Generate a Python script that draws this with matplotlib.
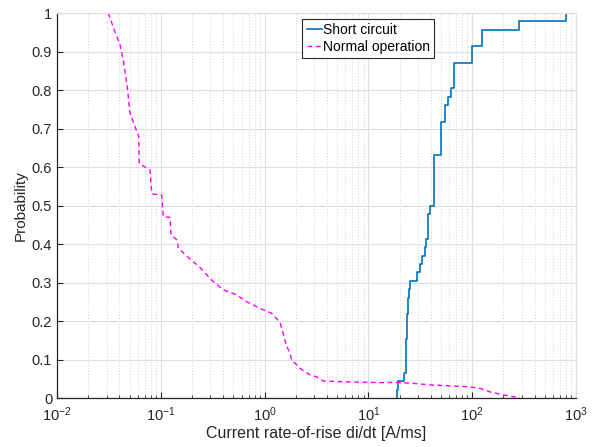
import numpy as np
import matplotlib
matplotlib.use("Agg")
import matplotlib.pyplot as plt
from matplotlib.ticker import FixedLocator, FormatStrFormatter, LogLocator

plt.rcParams['font.family'] = ['Liberation Sans', 'DejaVu Sans']
plt.rcParams['mathtext.fontset'] = 'custom'
plt.rcParams['mathtext.rm'] = 'Liberation Sans'
plt.rcParams['mathtext.it'] = 'Liberation Sans:italic'

# === DATA ===
# short circuit: di/dt samples (A/ms), read off the step CDF (n = 46)
short_circuit = [19.0, 19.4, 22.0,
                 23.0, 23.0, 23.1, 23.2, 23.3,
                 23.6, 23.7, 23.9, 24.0,
                 24.5, 24.9,
                 29.6, 31.4, 33.1, 34.8, 35.9,
                 37.5, 37.5, 37.5, 39.5,
                 43.2, 43.2, 43.2, 43.2, 43.2, 43.2,
                 50.0, 50.0, 50.0, 50.0,
                 54.7, 54.7, 58.0, 62.1,
                 66.8, 66.8, 66.8,
                 100.3, 100.3, 125.0, 125.0,
                 282.0, 801.0]

# normal operation: curve points (di/dt, probability)
normal_x = [0.0312, 0.0362, 0.0405, 0.0435, 0.0475, 0.0505, 0.0564, 0.0613,
            0.0620, 0.0655, 0.0787, 0.0817, 0.0830, 0.1020, 0.1057, 0.1228,
            0.1255, 0.1443, 0.1475, 0.184, 0.239, 0.309, 0.400, 0.538,
            0.673, 0.903, 1.17, 1.41, 1.51, 1.63, 1.76, 1.82, 2.04, 2.19,
            2.74, 3.18, 3.68, 6.18, 12.9, 18.7, 27.1, 39.2, 56.8, 95.3,
            119.0, 148.0, 199.0, 289.0]
normal_p = [1.000, 0.951, 0.917, 0.878, 0.809, 0.739, 0.705, 0.679,
            0.609, 0.605, 0.592, 0.536, 0.530, 0.527, 0.471, 0.469,
            0.423, 0.410, 0.389, 0.365, 0.339, 0.306, 0.281, 0.268,
            0.250, 0.233, 0.220, 0.196, 0.168, 0.135, 0.116, 0.099, 0.086, 0.077,
            0.060, 0.055, 0.044, 0.042, 0.040, 0.0405, 0.038, 0.034, 0.032, 0.029,
            0.025, 0.016, 0.008, 0.0]

y_ticks = [0, 0.1, 0.2, 0.3, 0.4, 0.5, 0.6, 0.7, 0.8, 0.9, 1.0]

# =========================
# ECDF
# =========================
sc = np.sort(np.array(short_circuit))
n = len(sc)
sc_x = np.concatenate([[sc[0]], sc])
sc_y = np.concatenate([[0.0], np.arange(1, n + 1) / n])

# =========================
# PLOT
# =========================
fig = plt.figure(figsize=(6.0, 4.47), dpi=100)
ax = fig.add_axes([0.095, 0.1096, 0.865, 0.8613])

ax.step(sc_x, sc_y, where="post", color="#0072BD", linewidth=1.2,
        label="Short circuit")
ax.plot(normal_x, normal_p, color="#FF00FF", linewidth=1.0,
        dashes=(3.5, 2.5), label="Normal operation")

ax.set_xscale("log")
ax.set_xlim(1e-2, 1e3)
ax.set_ylim(0, 1)

ax.xaxis.set_major_locator(LogLocator(base=10, numticks=10))
ax.xaxis.set_minor_locator(LogLocator(base=10, subs=np.arange(2, 10), numticks=20))
ax.yaxis.set_major_locator(FixedLocator(y_ticks))
ax.yaxis.set_major_formatter(FormatStrFormatter("%g"))

ax.grid(True, which="major", color="#dedede", linestyle="-", linewidth=0.8)
ax.grid(True, which="minor", axis="x", color="#d8d8d8", linestyle=":", linewidth=0.8)
ax.set_axisbelow(True)

for side in ["left", "bottom"]:
    ax.spines[side].set_color("#262626")
    ax.spines[side].set_linewidth(0.9)
for side in ["top", "right"]:
    ax.spines[side].set_color("#dedede")
    ax.spines[side].set_linewidth(0.8)

ax.tick_params(which="both", direction="in", colors="#262626",
               labelsize=10.5, top=False, right=False)
ax.tick_params(which="major", length=4)
ax.tick_params(which="minor", length=2.5)
ax.tick_params(axis="x", which="major", pad=5)

ax.set_xlabel("Current rate-of-rise di/dt [A/ms]", fontsize=11.5, color="#262626",
              labelpad=2)
ax.set_ylabel("Probability", fontsize=11, color="#262626", labelpad=3)

leg = ax.legend(loc="upper left", bbox_to_anchor=(0.473, 0.985), fontsize=10,
                frameon=True, fancybox=False, framealpha=1, edgecolor="#262626",
                handlelength=1.1, handletextpad=0.1, borderpad=0.3,
                labelspacing=0.2, borderaxespad=0)
leg.get_frame().set_linewidth(0.8)

fig.savefig("out.png", dpi=100)
